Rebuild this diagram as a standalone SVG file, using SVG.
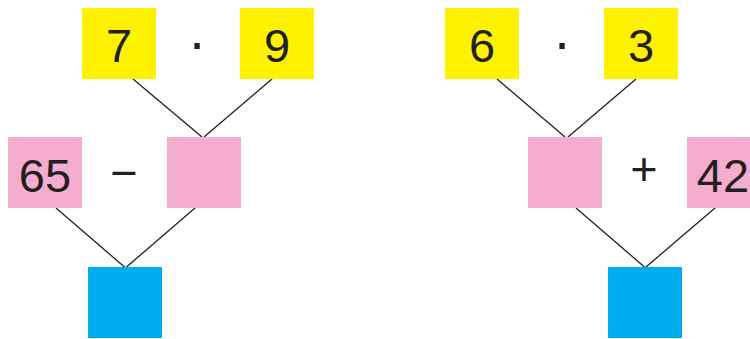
<svg xmlns="http://www.w3.org/2000/svg" width="750" height="339" viewBox="0 0 750 339">
<style>
.y{fill:#FFF200}
.p{fill:#F5ADCF}
.b{fill:#00AEEF}
.t{font-family:"Liberation Sans",Arial,sans-serif;font-size:47px;fill:#231F20;text-anchor:middle}
.d{font-size:56px}
.c line{stroke:#231F20;stroke-width:1.3}
</style>
<rect width="750" height="339" fill="#fff"/>
<g class="c" id="connectors">
<line x1="133" y1="79" x2="202" y2="137"/>
<line x1="272" y1="79" x2="204" y2="137"/>
<line x1="56" y1="208" x2="124.5" y2="267"/>
<line x1="195" y1="208" x2="126.5" y2="267"/>
<line x1="497" y1="79" x2="565" y2="137"/>
<line x1="636" y1="79" x2="568" y2="137"/>
<line x1="576" y1="208" x2="644.5" y2="267"/>
<line x1="715" y1="208" x2="646" y2="267"/>
</g>
<g id="n7"><rect class="y" x="82" y="8" width="74" height="71"/><text class="t" x="119" y="62">7</text></g>
<g id="op1"><text class="t d" x="197" y="61">·</text></g>
<g id="n9"><rect class="y" x="240" y="8" width="74" height="71"/><text class="t" x="277" y="62">9</text></g>
<g id="n65"><rect class="p" x="8" y="137" width="74" height="71"/><text class="t" x="45" y="192">65</text></g>
<g id="op2"><text class="t" x="124" y="189">−</text></g>
<g id="pinkL"><rect class="p" x="167" y="137" width="74" height="71"/></g>
<g id="blueL"><rect class="b" x="88" y="267" width="74" height="71"/></g>
<g id="n6"><rect class="y" x="445" y="8" width="74" height="71"/><text class="t" x="482" y="62">6</text></g>
<g id="op3"><text class="t d" x="562" y="61">·</text></g>
<g id="n3"><rect class="y" x="604" y="8" width="74" height="71"/><text class="t" x="641" y="62">3</text></g>
<g id="pinkR"><rect class="p" x="528" y="137" width="74" height="71"/></g>
<g id="op4"><text class="t" x="644" y="185">+</text></g>
<g id="n42"><rect class="p" x="687" y="137" width="74" height="71"/><text class="t" x="723" y="192">42</text></g>
<g id="blueR"><rect class="b" x="608" y="267" width="74" height="71"/></g>
</svg>
